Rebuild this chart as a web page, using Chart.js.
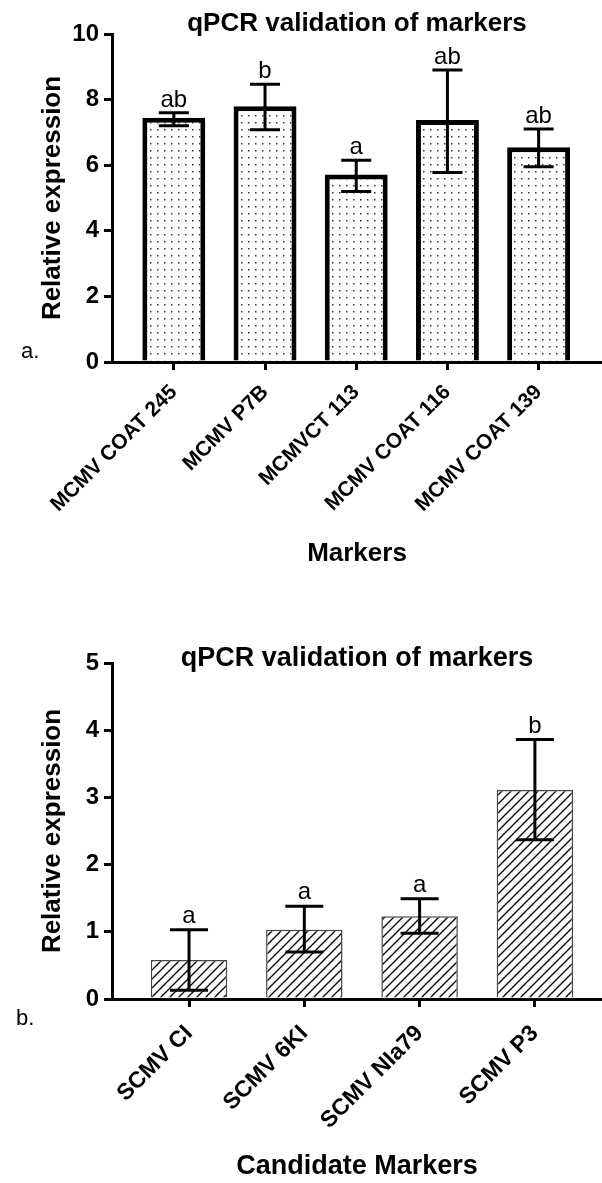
<!DOCTYPE html>
<html>
<head>
<meta charset="utf-8">
<script src="https://cdn.jsdelivr.net/npm/chart.js@4.4.1/dist/chart.umd.min.js"></script>
<style>
  html, body { margin: 0; padding: 0; background: #fff; }
  #wrapA { position: absolute; left: 0; top: 0; width: 602px; height: 600px; }
  #wrapB { position: absolute; left: 0; top: 600px; width: 602px; height: 583px; }
</style>
</head>
<body>
<div id="wrapA"><canvas id="chartA" width="602" height="600"></canvas></div>
<div id="wrapB"><canvas id="chartB" width="602" height="583"></canvas></div>
<script>
// Panel a: MCMV markers
const markersA = ['MCMV COAT 245', 'MCMV P7B', 'MCMVCT 113', 'MCMV COAT 116', 'MCMV COAT 139'];
const meanA = [7.45, 7.8, 5.72, 7.38, 6.55];
const lowA = [7.2, 7.08, 5.2, 5.78, 5.95];
const highA = [7.6, 8.47, 6.15, 8.9, 7.1];
const groupA = ['ab', 'b', 'a', 'ab', 'ab'];
const yTicksA = [0, 2, 4, 6, 8, 10];

// Panel b: SCMV candidate markers
const markersB = ['SCMV CI', 'SCMV 6KI', 'SCMV NIa79', 'SCMV P3'];
const meanB = [0.58, 1.03, 1.23, 3.11];
const lowB = [0.13, 0.70, 0.98, 2.37];
const highB = [1.03, 1.38, 1.49, 3.86];
const groupB = ['a', 'a', 'a', 'b'];
const yTicksB = [0, 1, 2, 3, 4, 5];

const FONT = 'Liberation Sans, Arial, Helvetica, sans-serif';

// fill patterns
function dotPattern(ctx) {
    const c = document.createElement('canvas');
    c.width = 7; c.height = 7;
    const g = c.getContext('2d');
    g.fillStyle = '#fff';
    g.fillRect(0, 0, 7, 7);
    g.fillStyle = '#333';
    g.fillRect(3, 3, 1.5, 1.5);
    return ctx.createPattern(c, 'repeat');
}

function hatchPattern(ctx) {
    const s = 9;
    const c = document.createElement('canvas');
    c.width = s; c.height = s;
    const g = c.getContext('2d');
    g.fillStyle = '#fff';
    g.fillRect(0, 0, s, s);
    g.strokeStyle = '#000';
    g.lineWidth = 1.3;
    g.beginPath();
    g.moveTo(-1, s + 1); g.lineTo(s + 1, -1);
    g.moveTo(-1, 1); g.lineTo(1, -1);
    g.moveTo(s - 1, s + 1); g.lineTo(s + 1, s - 1);
    g.stroke();
    return ctx.createPattern(c, 'repeat');
}

// error bars, group letters and panel letter
const errorBars = {
    id: 'errorBars',
    afterDatasetsDraw(chart, args, opts) {
        const { ctx, scales: { x, y } } = chart;
        ctx.save();
        ctx.strokeStyle = '#000';
        ctx.fillStyle = '#000';
        ctx.lineWidth = opts.width;
        ctx.font = opts.font;
        ctx.textAlign = 'center';
        ctx.textBaseline = 'alphabetic';
        opts.low.forEach((lo, i) => {
            const px = x.getPixelForValue(i);
            const yl = y.getPixelForValue(lo);
            const yh = y.getPixelForValue(opts.high[i]);
            ctx.beginPath();
            ctx.moveTo(px, yl); ctx.lineTo(px, yh);
            ctx.moveTo(px - opts.cap, yh); ctx.lineTo(px + opts.cap, yh);
            ctx.moveTo(px - opts.cap, yl); ctx.lineTo(px + opts.cap, yl);
            ctx.stroke();
            ctx.fillText(opts.groups[i], px, yh - opts.gap);
        });
        ctx.textAlign = 'left';
        ctx.font = opts.panelFont;
        ctx.fillText(opts.panel, opts.panelX, opts.panelY);
        ctx.restore();
    }
};

const axisLine = { color: '#000', width: 3 };
const tickMarks = { drawOnChartArea: false, offset: false, tickLength: 8, lineWidth: 3, color: '#000' };

// Chart a
const ctxA = document.getElementById('chartA').getContext('2d');
new Chart(ctxA, {
    type: 'bar',
    data: {
        datasets: [{
            data: meanA.map((v, i) => ({ x: i, y: v })),
            backgroundColor: dotPattern(ctxA),
            borderColor: '#000',
            borderWidth: 5,
            barPercentage: 0.69,
            categoryPercentage: 1
        }]
    },
    options: {
        responsive: false,
        animation: false,
        layout: { padding: 0 },
        plugins: {
            legend: { display: false },
            tooltip: { enabled: false },
            title: {
                display: true,
                fullSize: false,
                text: 'qPCR validation of markers',
                color: '#000',
                font: { family: FONT, size: 26, weight: 'bold', lineHeight: 1 },
                padding: { top: 11, bottom: -3 }
            },
            errorBars: {
                low: lowA, high: highA, groups: groupA,
                width: 3, cap: 15, gap: 6,
                font: '24px ' + FONT,
                panel: 'a.', panelFont: '22px ' + FONT, panelX: 21, panelY: 358
            }
        },
        scales: {
            x: {
                type: 'linear',
                offset: false,
                min: -0.678,
                max: 4.695,
                z: 1,
                afterBuildTicks: s => { s.ticks = markersA.map((_, i) => ({ value: i })); },
                afterFit: s => { s.height = 238; },
                ticks: {
                    callback: v => markersA[v],
                    autoSkip: false,
                    minRotation: 45,
                    maxRotation: 45,
                    padding: 10,
                    color: '#000',
                    font: { family: FONT, size: 21, weight: 'bold' }
                },
                grid: tickMarks,
                border: axisLine,
                title: {
                    display: true,
                    text: 'Markers',
                    color: '#000',
                    font: { family: FONT, size: 26, weight: 'bold' },
                    padding: { top: 0, bottom: 31 }
                }
            },
            y: {
                min: 0,
                max: 10,
                afterBuildTicks: s => { s.ticks = yTicksA.map(v => ({ value: v })); },
                afterFit: s => { s.width = 112; },
                ticks: {
                    padding: 5,
                    color: '#000',
                    font: { family: FONT, size: 24, weight: 'bold' }
                },
                grid: tickMarks,
                border: axisLine,
                title: {
                    display: true,
                    text: 'Relative expression',
                    color: '#000',
                    font: { family: FONT, size: 26, weight: 'bold' },
                    padding: { top: 37, bottom: 0 }
                }
            }
        }
    },
    plugins: [errorBars]
});

// Chart b
const ctxB = document.getElementById('chartB').getContext('2d');
new Chart(ctxB, {
    type: 'bar',
    data: {
        datasets: [{
            data: meanB.map((v, i) => ({ x: i, y: v })),
            backgroundColor: hatchPattern(ctxB),
            borderColor: '#444',
            borderWidth: 1.5,
            barPercentage: 0.663,
            categoryPercentage: 1
        }]
    },
    options: {
        responsive: false,
        animation: false,
        layout: { padding: 0 },
        plugins: {
            legend: { display: false },
            tooltip: { enabled: false },
            title: {
                display: true,
                fullSize: false,
                text: 'qPCR validation of markers',
                color: '#000',
                font: { family: FONT, size: 27, weight: 'bold', lineHeight: 1 },
                padding: { top: 45.5, bottom: -9.5 }
            },
            errorBars: {
                low: lowB, high: highB, groups: groupB,
                width: 3, cap: 19, gap: 7,
                font: '24px ' + FONT,
                panel: 'b.', panelFont: '22px ' + FONT, panelX: 16, panelY: 425
            }
        },
        scales: {
            x: {
                type: 'linear',
                offset: false,
                min: -0.668,
                max: 3.582,
                z: 1,
                afterBuildTicks: s => { s.ticks = markersB.map((_, i) => ({ value: i })); },
                afterFit: s => { s.height = 184; },
                ticks: {
                    callback: v => markersB[v],
                    autoSkip: false,
                    minRotation: 45,
                    maxRotation: 45,
                    padding: 13,
                    color: '#000',
                    font: { family: FONT, size: 23, weight: 'bold' }
                },
                grid: tickMarks,
                border: axisLine,
                title: {
                    display: true,
                    text: 'Candidate Markers',
                    color: '#000',
                    font: { family: FONT, size: 27, weight: 'bold' },
                    padding: { top: 0, bottom: 0 }
                }
            },
            y: {
                min: 0,
                max: 5,
                afterBuildTicks: s => { s.ticks = yTicksB.map(v => ({ value: v })); },
                afterFit: s => { s.width = 112; },
                ticks: {
                    padding: 5,
                    color: '#000',
                    font: { family: FONT, size: 24, weight: 'bold' }
                },
                grid: tickMarks,
                border: axisLine,
                title: {
                    display: true,
                    text: 'Relative expression',
                    color: '#000',
                    font: { family: FONT, size: 26, weight: 'bold' },
                    padding: { top: 37, bottom: 0 }
                }
            }
        }
    },
    plugins: [errorBars]
});
</script>
</body>
</html>
